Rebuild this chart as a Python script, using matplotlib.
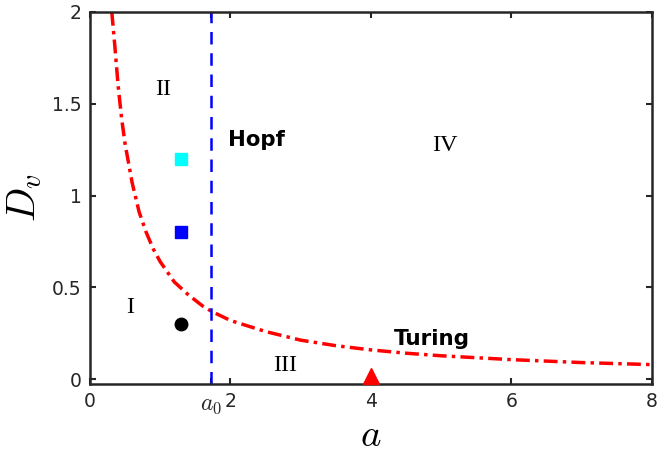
import matplotlib
matplotlib.use("Agg")
import matplotlib.pyplot as plt

plt.rcParams["mathtext.fontset"] = "cm"

# Turing curve
turing_a = [0.31, 0.35, 0.4, 0.45, 0.5, 0.6, 0.7, 0.8, 0.9, 1.0, 1.2, 1.4, 1.6, 1.73, 2.0, 2.5, 3.0, 3.5, 4.0, 4.5, 5.0, 6.0, 7.0, 8.0]
turing_D = [2.0, 1.83, 1.6, 1.42, 1.28, 1.07, 0.91, 0.80, 0.71, 0.64, 0.53, 0.46, 0.40, 0.37, 0.32, 0.26, 0.213, 0.183, 0.16, 0.142, 0.128, 0.107, 0.091, 0.08]
a0 = 1.73
pt_a = [1.3, 1.3, 1.3]
pt_D = [1.2, 0.8, 0.3]
pt_colors = ["#00ffff", "#0000ff", "#000000"]
pt_markers = ["s", "s", "o"]
tri_a, tri_D = 4.0, 0.02
xticks = [0, a0, 2, 4, 6, 8]
xticklabels = ["0", r"$a_0$", "2", "4", "6", "8"]
yticks = [0, 0.5, 1, 1.5, 2]
yticklabels = ["0", "0.5", "1", "1.5", "2"]
regions = [("I", 0.57, 0.39), ("II", 1.04, 1.58), ("III", 2.78, 0.075), ("IV", 5.05, 1.27)]

fig = plt.figure(figsize=(6.57, 4.57), dpi=100)
ax = fig.add_axes([0.137, 0.160, 0.855, 0.814])

ax.plot(turing_a, turing_D, color="red", lw=2.5, ls=(0, (4, 1.5, 1, 1.5)))
ax.axvline(a0, color="#0000ff", lw=1.8, ls=(0, (5, 3.5)))
for x, y, c, m in zip(pt_a, pt_D, pt_colors, pt_markers):
    ax.plot(x, y, marker=m, color=c, ms=8.5 if m == "s" else 9, ls="none")
ax.plot(tri_a, tri_D, marker="^", color="red", ms=12, ls="none", clip_on=False, zorder=5)

for t, x, y in regions:
    ax.text(x, y, t, family="Liberation Serif", fontsize=17.5, ha="center", va="center")
ax.text(1.96, 1.30, "Hopf", fontweight="bold", fontsize=15.3, ha="left", va="center")
ax.text(4.33, 0.22, "Turing", fontweight="bold", fontsize=15.5, ha="left", va="center")

ax.set_xlim(0, 8)
ax.set_ylim(-0.025, 2)
ax.set_xticks(xticks)
ax.set_xticklabels(xticklabels)
ax.set_yticks(yticks)
ax.set_yticklabels(yticklabels)
ax.tick_params(direction="in", length=4, width=1.5, labelsize=13.5, top=True, right=True,
               colors="#262626", labelcolor="#262626", pad=6)
ax.get_xticklabels()[1].set_fontsize(17)
for s in ax.spines.values():
    s.set_linewidth(1.8)
    s.set_color("#262626")
ax.set_xlabel(r"$a$", fontsize=28, labelpad=0)
ax.set_ylabel(r"$D_v$", fontsize=29, labelpad=6)

fig.savefig("out.png", dpi=100)
